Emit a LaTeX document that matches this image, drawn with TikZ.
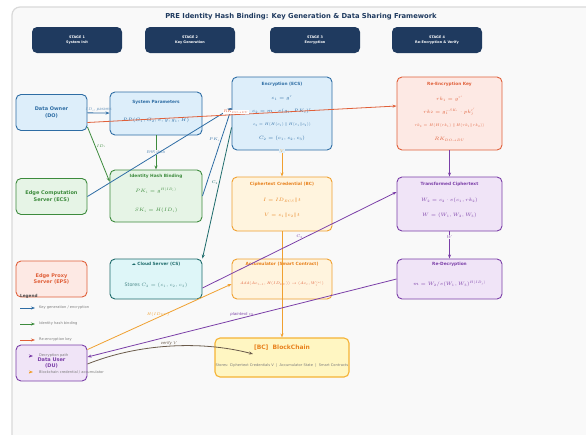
\RequirePackage{fix-cm}
\documentclass[tikz,border=0pt]{standalone}
\usepackage{amsmath}
\usepackage{fontspec}
\setmainfont{DejaVu Sans}
\newfontfamily\iconfont{DejaVu Sans}
\usetikzlibrary{arrows.meta}

\definecolor{cnavy}{HTML}{1F3A5F}
\definecolor{cblue}{HTML}{2E6DA4}
\definecolor{cbluefill}{HTML}{DDEEFA}
\definecolor{cgreen}{HTML}{3D8B3D}
\definecolor{cgreenfill}{HTML}{E6F4E6}
\definecolor{cred}{HTML}{E0603A}
\definecolor{credfill}{HTML}{FDE9E4}
\definecolor{corange}{HTML}{F0A030}
\definecolor{corangetext}{HTML}{E8821E}
\definecolor{corangefill}{HTML}{FFF4DE}
\definecolor{cpurple}{HTML}{7B3FA8}
\definecolor{cpurplefill}{HTML}{F0E4F7}
\definecolor{cteal}{HTML}{1D6B6B}
\definecolor{ctealfill}{HTML}{DEF6F8}
\definecolor{cyellowfill}{HTML}{FFF6C2}
\definecolor{cgold}{HTML}{F5B335}
\definecolor{cbrown}{HTML}{6B5B4B}
\definecolor{cpanel}{HTML}{F9F9F9}
\definecolor{cgraytext}{HTML}{7A7A7A}

\tikzset{
  box/.style={draw, rounded corners=5pt, line width=0.9pt, inner sep=0pt},
  stagebox/.style={box, draw=none, fill=cnavy, minimum width=90pt, minimum height=26pt,
    text=white, font=\fontsize{3.4}{4.6}\selectfont\bfseries, align=center},
  actor/.style={box, minimum width=71pt, minimum height=36pt,
    font=\fontsize{5}{6.4}\selectfont\bfseries, align=center},
  boxtitle/.style={font=\fontsize{4.3}{5}\selectfont\bfseries, inner sep=0pt},
  formula/.style={font=\fontsize{4.8}{6}\selectfont, inner sep=0pt},
  smallformula/.style={font=\fontsize{3.7}{5}\selectfont, inner sep=0pt},
  arr/.style={-{Stealth[length=4pt,width=3pt]}, line width=0.8pt},
  lbl/.style={font=\fontsize{3.9}{4}\selectfont\itshape, inner sep=1pt},
  legendtext/.style={font=\fontsize{3.6}{4}\selectfont, text=cgraytext, anchor=west, inner sep=0pt},
}

\begin{document}
\begin{tikzpicture}[x=1pt, y=-1pt]

	\useasboundingbox (0,0) rectangle (586,434);
	\fill[white] (0,0) rectangle (586,434);
	\draw[draw=gray!30, fill=cpanel, line width=1.2pt, rounded corners=8pt] (12,7) rectangle (620,470);

	\node[font=\fontsize{6.8}{8}\selectfont\bfseries, text=cnavy] (title) at (301,17)
		{PRE Identity Hash Binding: Key Generation \& Data Sharing Framework};

	\node[stagebox] (stage1) at (77,40)  {STAGE 1\\System Init};
	\node[stagebox] (stage2) at (190,40) {STAGE 2\\Key Generation};
	\node[stagebox] (stage3) at (315,40) {STAGE 3\\Encryption};
	\node[stagebox] (stage4) at (437,40) {STAGE 4\\Re-Encryption \& Verify};

	\node[actor, draw=cblue, fill=cbluefill, text=cblue]       (do)  at (51.5,112.5) {Data Owner\\(DO)};
	\node[actor, draw=cgreen, fill=cgreenfill, text=cgreen]    (ecs) at (51.5,196.5) {Edge Computation\\Server (ECS)};
	\node[actor, draw=cred, fill=credfill, text=cred]          (eps) at (51.5,279)   {Edge Proxy\\Server (EPS)};
	\node[actor, draw=cpurple, fill=cpurplefill, text=cpurple] (du)  at (51.5,363)   {Data User\\(DU)};

	\node[box, draw=cblue, fill=cbluefill, minimum width=92pt, minimum height=43pt] (sp) at (156,113.5) {};
	\node[boxtitle, text=cblue] (sptitle) at (156,102) {System Parameters};
	\node[formula, text=cblue] (sppp) at (156,120) {$PP(G_1,G_2,e,g,g_1,H)$};

	\node[box, draw=cgreen, fill=cgreenfill, minimum width=92pt, minimum height=52pt] (ihb) at (156,196) {};
	\node[boxtitle, text=cgreen] (ihbtitle) at (156,176) {Identity Hash Binding};
	\node[formula, text=cgreen] (ihbpk) at (156,191) {$PK_i=g^{H(ID_i)}$};
	\node[formula, text=cgreen] (ihbsk) at (156,210) {$SK_i=H(ID_i)$};

	\node[box, draw=cteal, fill=ctealfill, minimum width=92pt, minimum height=40pt] (cs) at (156,279) {};
	\node[boxtitle, text=cteal] (cstitle) at (156,264) {{\iconfont ☁} Cloud Server (CS)};
	\node[formula, text=cteal!80] (csstore) at (156,285) {Stores $C_2=(c_1,c_2,c_3)$};

	\node[box, draw=cblue, fill=cbluefill, minimum width=100pt, minimum height=73pt] (enc) at (282,113.5) {};
	\node[boxtitle, text=cblue] (enctitle) at (282,84) {Encryption (ECS)};
	\node[formula, text=cblue] (encc1) at (282,98) {$c_1=g^r$};
	\node[formula, text=cblue] (encc2) at (282,111) {$c_2=m\cdot e(g_1,PK_i)^r$};
	\node[smallformula, text=cblue] (encc3) at (282,125) {$c_3=H(H(c_1)\,\|\,H(c_1\|c_2))$};
	\node[formula, text=cblue] (encct) at (282,138) {$C_2=(c_1,c_2,c_3)$};

	\node[box, draw=corange, fill=corangefill, minimum width=100pt, minimum height=54pt] (cc) at (282,204) {};
	\node[boxtitle, text=corangetext] (cctitle) at (282,184) {Ciphertext Credential (BC)};
	\node[formula, text=corangetext] (cci) at (282,200) {$I=ID_{ECS}\|t$};
	\node[formula, text=corangetext] (ccv) at (282,215) {$V=c_1\|c_2\|t$};

	\node[box, draw=corange, fill=corangefill, minimum width=100pt, minimum height=40pt] (acc) at (282,279) {};
	\node[boxtitle, text=corangetext] (acctitle) at (282,264) {Accumulator (Smart Contract)};
	\node[smallformula, text=cred] (accadd) at (282,284) {$Add(Ac_{t-1},H(ID_{DU}))\rightarrow(Ac_t,W_t^{(n)})$};

	\node[box, draw=cred, fill=credfill, minimum width=105pt, minimum height=73pt] (rekey) at (449.5,113.5) {};
	\node[boxtitle, text=cred] (rekeytitle) at (449.5,84) {Re-Encryption Key};
	\node[formula, text=cred] (rekeyrk1) at (449.5,99) {$rk_1=g^{r'}$};
	\node[formula, text=cred] (rekeyrk2) at (449.5,112) {$rk_2=g_1^{-SK_i}\cdot pk_j^{r'}$};
	\node[smallformula, text=cred] (rekeyrk3) at (449.5,126) {$rk_3=H(H(rk_1)\,\|\,H(rk_1\|rk_2))$};
	\node[formula, text=cred] (rekeyrk) at (449.5,139) {$RK_{DO\rightarrow DU}$};

	\node[box, draw=cpurple, fill=cpurplefill, minimum width=105pt, minimum height=54pt] (tc) at (449.5,204) {};
	\node[boxtitle, text=cpurple] (tctitle) at (449.5,184) {Transformed Ciphertext};
	\node[formula, text=cpurple] (tcw2) at (449.5,200) {$W_2=c_2\cdot e(c_1,rk_2)$};
	\node[formula, text=cpurple] (tcw) at (449.5,215) {$W=(W_1,W_2,W_3)$};

	\node[box, draw=cpurple, fill=cpurplefill, minimum width=105pt, minimum height=40pt] (redec) at (449.5,279) {};
	\node[boxtitle, text=cpurple] (redectitle) at (449.5,264) {Re-Decryption};
	\node[formula, text=cpurple] (redecm) at (449.5,284) {$m=W_2/e(W_1,W_3)^{H(ID_j)}$};

	\node[box, draw=cgold, fill=cyellowfill, line width=1.1pt, minimum width=134pt, minimum height=39pt] (bc) at (282,357.5) {};
	\node[font=\fontsize{6}{7}\selectfont\bfseries, text=corangetext, inner sep=0pt] (bctitle) at (282,348) {[BC]\ \ BlockChain};
	\node[font=\fontsize{3.6}{4}\selectfont, text=cgraytext, inner sep=0pt] (bcstores) at (282,366)
		{Stores: Ciphertext Credentials V\ \ |\ \ Accumulator State\ \ |\ \ Smart Contracts};

	\draw[arr, cblue] (do) -- node[lbl, above, text=cblue!70] {$ID_i$, params} (sp);
	\draw[arr, cgreen] ([yshift=4pt]do.south east) -- node[lbl, right, pos=0.35, text=cgreen] {$ID_i$} ([yshift=-12pt]ihb.north west);
	\draw[arr, cgreen] (sp) -- node[lbl, fill=cpanel, text=cblue!70] {EHR data} (ihb);
	\draw[arr, cblue] (ecs.east) -- ([yshift=5.5pt]enc.west);
	\draw[arr, cblue] (ihb.east) -- node[lbl, left, pos=0.64, text=cblue] {$PK_i$} ([yshift=5.5pt]enc.west);
	\draw[arr, cred] ([yshift=-10pt]do.east) -- node[lbl, above, pos=0.48, fill=white, inner sep=0.5pt, text=cred] {$RK_{DO\rightarrow DU}$} ([yshift=7.5pt]rekey.west);
	\draw[arr, cteal] ([yshift=-14pt]enc.west) -- node[lbl, left, pos=0.42, text=cteal] {$C_2$} (cs.north east);
	\draw[arr, corange] (enc) -- node[lbl, pos=0.02, fill=cbluefill, inner sep=0.4pt, text=corange] {$V$} (cc);
	\draw[arr, corange] (cc) -- (bc);
	\draw[arr, cpurple] (rekey) -- (tc);
	\draw[arr, cpurple] (tc) -- node[lbl, pos=0.2, fill=cpanel, inner sep=0.4pt, text=cpurple] {$W$} (redec);
	\draw[arr, cpurple] ([yshift=-9pt]cs.east) -- node[lbl, above, text=cpurple] {$C_2$} ([yshift=12pt]tc.west);
	\draw[arr, corange] ([yshift=-5pt]du.north east) -- node[lbl, above, pos=0.49, text=corange] {$H(ID_{DU})$} ([yshift=-5pt]acc.west);
	\draw[arr, cpurple] (redec.west) -- node[lbl, above, text=cpurple] {plaintext $m$} ([yshift=6pt]du.east);
	\draw[arr, cbrown] ([yshift=-1pt]du.east) .. controls +(50,-20) and +(-53,-14) .. node[lbl, above, pos=0.5, text=cbrown] {verify $V$} ([xshift=-29pt, yshift=3.5pt]bc.center);

	\node[font=\fontsize{4.2}{5}\selectfont\bfseries, text=black!70, anchor=west, inner sep=0pt] (legend) at (20,296) {Legend};
	\coordinate (lg1a) at (20,308); \coordinate (lg1b) at (35,308);
	\coordinate (lg2a) at (20,324); \coordinate (lg2b) at (35,324);
	\coordinate (lg3a) at (20,340); \coordinate (lg3b) at (35,340);
	\coordinate (lg4a) at (29,356); \coordinate (lg4b) at (33,356);
	\coordinate (lg5a) at (29,372); \coordinate (lg5b) at (33,372);
	\draw[arr, cblue] (lg1a) -- (lg1b);
	\draw[arr, cgreen] (lg2a) -- (lg2b);
	\draw[arr, cred] (lg3a) -- (lg3b);
	\draw[arr, cpurple] (lg4a) -- (lg4b);
	\draw[arr, corange] (lg5a) -- (lg5b);
	\node[legendtext] (lg1) at (39,308) {Key generation / encryption};
	\node[legendtext] (lg2) at (39,324) {Identity hash binding};
	\node[legendtext] (lg3) at (39,340) {Re-encryption key};
	\node[legendtext] (lg4) at (39,356) {Decryption path};
	\node[legendtext] (lg5) at (39,372) {Blockchain credential / accumulator};

\end{tikzpicture}
\end{document}
